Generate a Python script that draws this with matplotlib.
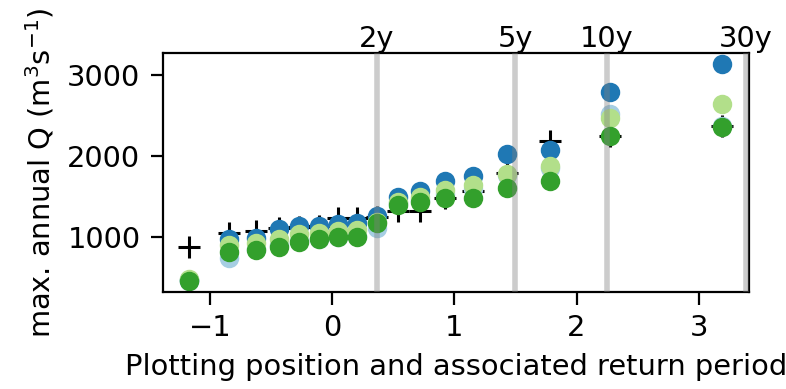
import numpy as np
import matplotlib
matplotlib.use('Agg')
import matplotlib.pyplot as plt
import matplotlib.transforms as mtransforms

# Plotting positions (Gumbel reduced variate) of the 17 ranked annual maxima.
plotPos = [-1.167, -0.844, -0.622, -0.437, -0.269, -0.110, 0.047, 0.204, 0.367,
           0.537, 0.721, 0.924, 1.156, 1.431, 1.780, 2.275, 3.193]

# Observed annual maxima (m3/s).
obs = [886, 1049, 1082, 1119, 1131, 1143, 1241, 1241, 1252,
       1320, 1325, 1490, 1572, 1792, 2192, 2245, 2375]

# Simulated annual maxima, one list per run.
simLightBlue = [465, 743, 850, 900, 960, 980, 1010, 1020, 1119,
                1420, 1460, 1530, 1600, 1775, 1854, 2519, 2370]
simDarkBlue = [470, 985, 996, 1105, 1140, 1145, 1170, 1180, 1268,
               1500, 1568, 1700, 1763, 2029, 2081, 2797, 3143]
simLightGreen = [480, 906, 927, 975, 1040, 1049, 1077, 1090, 1190,
                 1437, 1498, 1580, 1641, 1784, 1886, 2470, 2641]
simDarkGreen = [462, 820, 840, 880, 943, 975, 1008, 1008, 1171,
                1395, 1440, 1480, 1490, 1612, 1690, 2253, 2356]

# Return periods marked on the plot.
returnLabels = ['2y', '5y', '10y', '30y']
returnPeriods = [2, 5, 10, 30]

plt.rcParams['font.size'] = 10.4
plt.rcParams['xtick.major.size'] = 4.5
plt.rcParams['ytick.major.size'] = 4.5

fig = plt.figure(figsize=(3.93, 1.945), dpi=200)
ax = fig.add_subplot(1, 1, 1)
fig.subplots_adjust(left=0.207, right=0.953, top=0.864, bottom=0.250)

# Observations first, runs on top.
ax.plot(plotPos, obs, linestyle='none', marker='+', markersize=8,
        color='k', markeredgewidth=1.1)
series = [(simLightBlue, '#a6cee3'), (simDarkBlue, '#1f78b4'),
          (simLightGreen, '#b2df8a'), (simDarkGreen, '#33a02c')]
for vals, c in series:
    ax.plot(plotPos, vals, linestyle='none', marker='o', markersize=6, color=c)

# Return period lines.
trans = mtransforms.blended_transform_factory(ax.transData, ax.transAxes)
for lab, T in zip(returnLabels, returnPeriods):
    xT = -np.log(-np.log(1 - 1 / T))
    ax.axvline(xT, color='gray', alpha=0.4, linewidth=2, zorder=5)
    ax.text(xT, 1.0, lab, transform=trans, ha='center', va='bottom')

ax.set_xlabel('Plotting position and associated return period')
ax.set_ylabel('max. annual Q (m$^3$s$^{-1}$)')

fig.savefig('out.png', dpi=200)
